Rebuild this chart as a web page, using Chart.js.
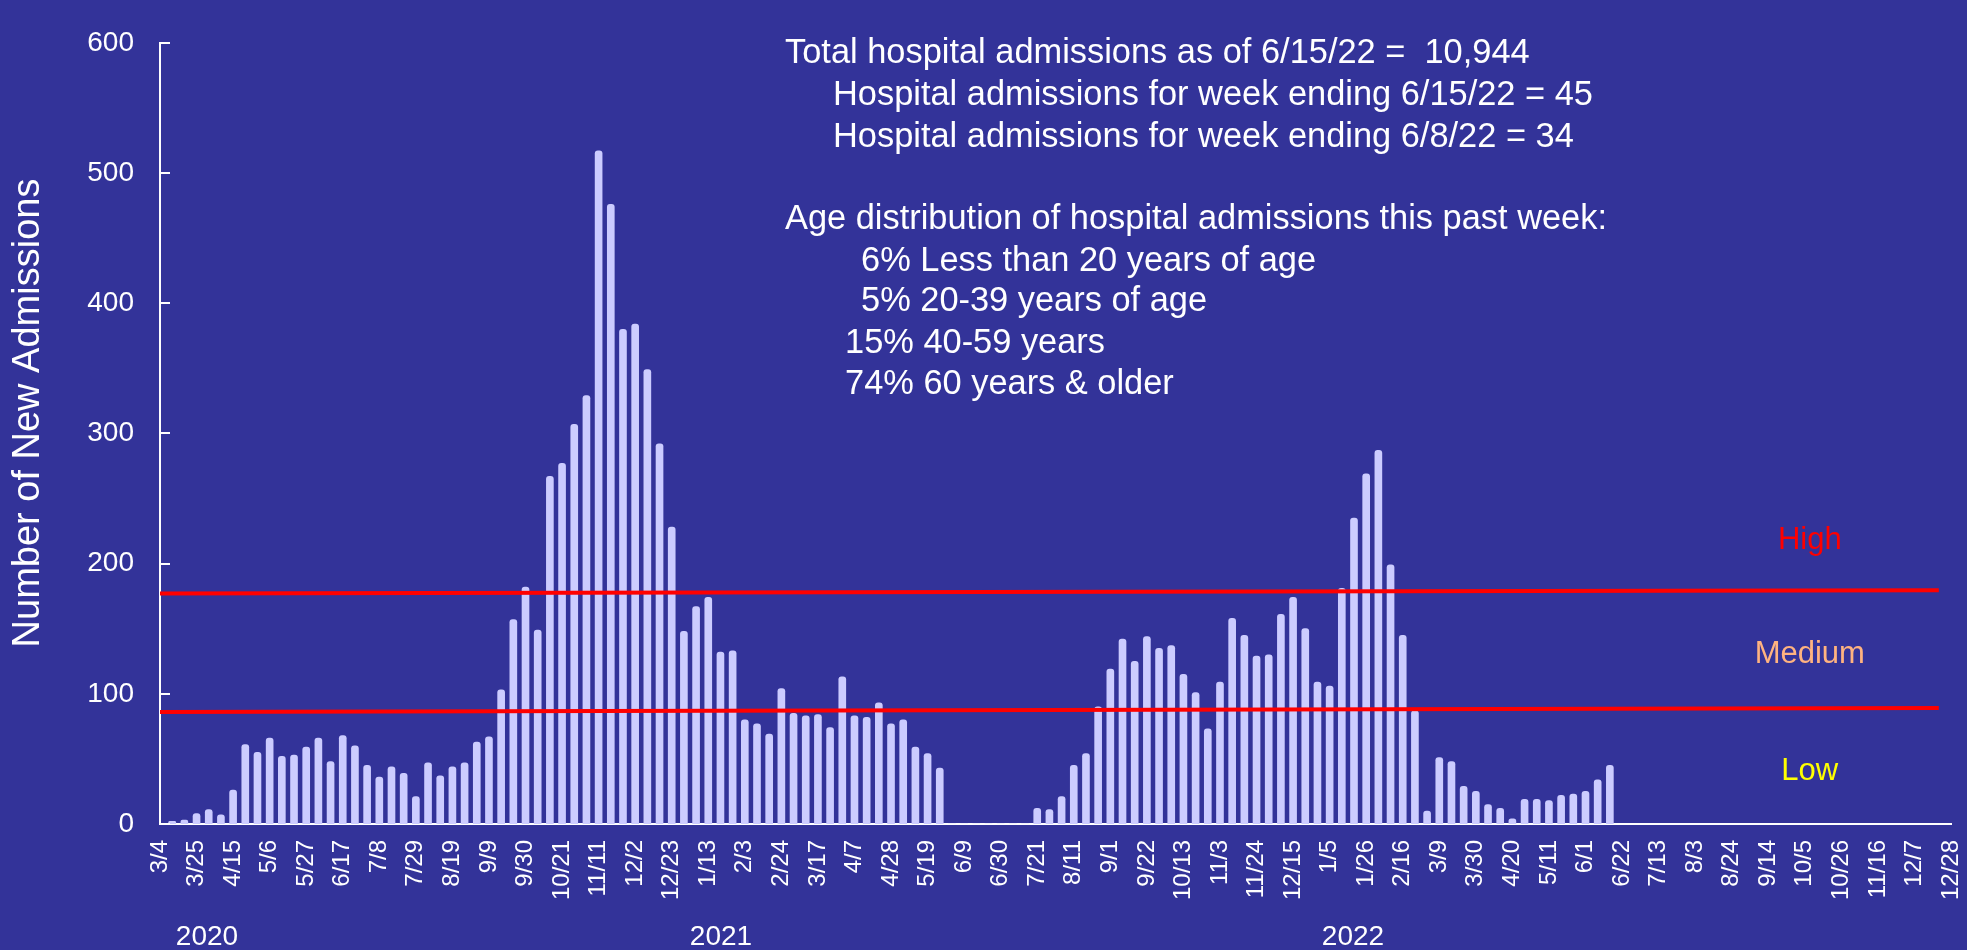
<!DOCTYPE html>
<html lang="en">
<head>
  <meta charset="UTF-8">
  <title>New Hospital Admissions</title>
  <script src="https://cdn.jsdelivr.net/npm/chart.js"></script>
  <style>
    html, body {
      margin: 0;
      padding: 0;
      background-color: #333399;
      overflow: hidden;
    }
    #wrap {
      width: 1967px;
      height: 950px;
      position: relative;
    }
  </style>
</head>
<body>
  <div id="wrap"><canvas id="admChart"></canvas></div>

  <script>
    // weekly categories: Wednesdays from 3/4/2020 to 12/28/2022
    const firstWeek = new Date(2020, 2, 4);
    const weekCount = 148;
    const weekLabels = [];
    for (let i = 0; i < weekCount; i++) {
      const d = new Date(firstWeek.getFullYear(), firstWeek.getMonth(), firstWeek.getDate() + i * 7);
      weekLabels.push((d.getMonth() + 1) + '/' + d.getDate());
    }

    // weekly new admissions, 3/4/2020 .. 6/15/2022
    const admissions = [
      0, 2, 3, 8, 11, 7, 26, 61, 55, 66, 52, 53, 59, 66, 48, 68, 60, 45, 36, 44,
      39, 21, 47, 37, 44, 47, 63, 67, 103, 157, 182, 149, 267, 277, 307, 329, 517, 476, 380, 384,
      349, 292, 228, 148, 167, 174, 132, 133, 80, 77, 69, 104, 85, 83, 84, 74, 113, 83, 82, 93,
      77, 80, 59, 54, 43, 0, 0, 0, 0, 0, 0, 0, 12, 11, 21, 45, 54, 90, 119, 142,
      125, 144, 135, 137, 115, 101, 73, 109, 158, 145, 129, 130, 161, 174, 150, 109, 106, 181, 235, 269,
      287, 199, 145, 87, 10, 51, 48, 29, 25, 15, 12, 4, 19, 19, 18, 22, 23, 25, 34, 45
    ];

    // threshold lines (start / end week, level)
    const highLine = [{ x: '3/4', y: 177 }, { x: '12/21', y: 179.5 }];
    const lowLine = [{ x: '3/4', y: 86 }, { x: '12/21', y: 89 }];

    const yTicks = [0, 100, 200, 300, 400, 500, 600];

    const levelLabels = [
      { text: 'High', value: 218, color: '#ff0000' },
      { text: 'Medium', value: 130, color: '#ffb380' },
      { text: 'Low', value: 40, color: '#ffff00' }
    ];

    const yearLabels = [
      { text: '2020', x: 207 },
      { text: '2021', x: 721 },
      { text: '2022', x: 1353 }
    ];

    const infoLines = [
      { text: 'Total hospital admissions as of 6/15/22 =  10,944', x: 785, y: 63 },
      { text: 'Hospital admissions for week ending 6/15/22 = 45', x: 833, y: 105 },
      { text: 'Hospital admissions for week ending 6/8/22 = 34', x: 833, y: 147 },
      { text: 'Age distribution of hospital admissions this past week:', x: 785, y: 229 },
      { text: '6% Less than 20 years of age', x: 861, y: 271 },
      { text: '5% 20-39 years of age', x: 861, y: 311 },
      { text: '15% 40-59 years', x: 845, y: 353 },
      { text: '74% 60 years & older', x: 845, y: 394 }
    ];

    const FONT = '"Liberation Sans", Arial, sans-serif';

    const extras = {
      id: 'extras',
      afterDraw(chart) {
        const ctx = chart.ctx;
        const x = chart.scales.x;
        const y = chart.scales.y;
        ctx.save();

        // inward tick marks on the y axis
        ctx.strokeStyle = '#ffffff';
        ctx.lineWidth = 2;
        yTicks.forEach(v => {
          const py = Math.round(y.getPixelForValue(v));
          ctx.beginPath();
          ctx.moveTo(chart.chartArea.left, py);
          ctx.lineTo(chart.chartArea.left + 10, py);
          ctx.stroke();
        });

        // axis title
        ctx.fillStyle = '#ffffff';
        ctx.font = '38px ' + FONT;
        ctx.textAlign = 'center';
        ctx.textBaseline = 'middle';
        ctx.save();
        ctx.translate(29, 413);
        ctx.rotate(-Math.PI / 2);
        ctx.fillText('Number of New Admissions', 0, 0);
        ctx.restore();

        // level names
        ctx.font = '31px ' + FONT;
        levelLabels.forEach(l => {
          ctx.fillStyle = l.color;
          ctx.fillText(l.text, x.getPixelForValue(135) + 5, y.getPixelForValue(l.value));
        });

        // info block
        ctx.fillStyle = '#ffffff';
        ctx.font = '34.4px ' + FONT;
        ctx.textAlign = 'left';
        ctx.textBaseline = 'alphabetic';
        infoLines.forEach(l => ctx.fillText(l.text, l.x, l.y));

        // years under the axis
        ctx.font = '28px ' + FONT;
        ctx.textAlign = 'center';
        ctx.textBaseline = 'middle';
        yearLabels.forEach(l => ctx.fillText(l.text, l.x, 937));

        ctx.restore();
      }
    };

    new Chart(document.getElementById('admChart'), {
      type: 'bar',
      data: {
        labels: weekLabels,
        datasets: [
          {
            type: 'line',
            data: highLine,
            borderColor: '#ff0000',
            borderWidth: 4,
            pointRadius: 0,
            fill: false,
            order: 0
          },
          {
            type: 'line',
            data: lowLine,
            borderColor: '#ff0000',
            borderWidth: 4,
            pointRadius: 0,
            fill: false,
            order: 0
          },
          {
            label: 'Number of New Admissions',
            data: admissions,
            backgroundColor: '#ccccff',
            borderRadius: 3,
            borderSkipped: 'start',
            barThickness: 7,
            order: 1
          }
        ]
      },
      options: {
        responsive: true,
        maintainAspectRatio: false,
        animation: false,
        layout: {
          padding: { top: 23, right: 16, left: 0, bottom: 0 }
        },
        plugins: {
          legend: { display: false },
          tooltip: { enabled: false }
        },
        scales: {
          x: {
            offset: false,
            grid: { display: false, drawTicks: false },
            border: { color: '#ffffff', width: 2 },
            ticks: {
              autoSkip: false,
              minRotation: 90,
              maxRotation: 90,
              padding: 16,
              color: '#ffffff',
              font: { family: FONT, size: 24 },
              callback: function (val, index) {
                return index % 3 === 0 ? this.getLabelForValue(val) : '';
              }
            },
            afterFit: scale => {
              scale.height = 126;
              scale.paddingLeft = 0;
              scale.paddingRight = 0;
            }
          },
          y: {
            min: 0,
            max: 600,
            grid: { display: false, drawTicks: false },
            border: { color: '#ffffff', width: 2 },
            ticks: {
              stepSize: 100,
              padding: 26,
              color: '#ffffff',
              font: { family: FONT, size: 28 }
            },
            afterFit: scale => { scale.width = 160; }
          }
        }
      },
      plugins: [extras]
    });
  </script>
</body>
</html>
